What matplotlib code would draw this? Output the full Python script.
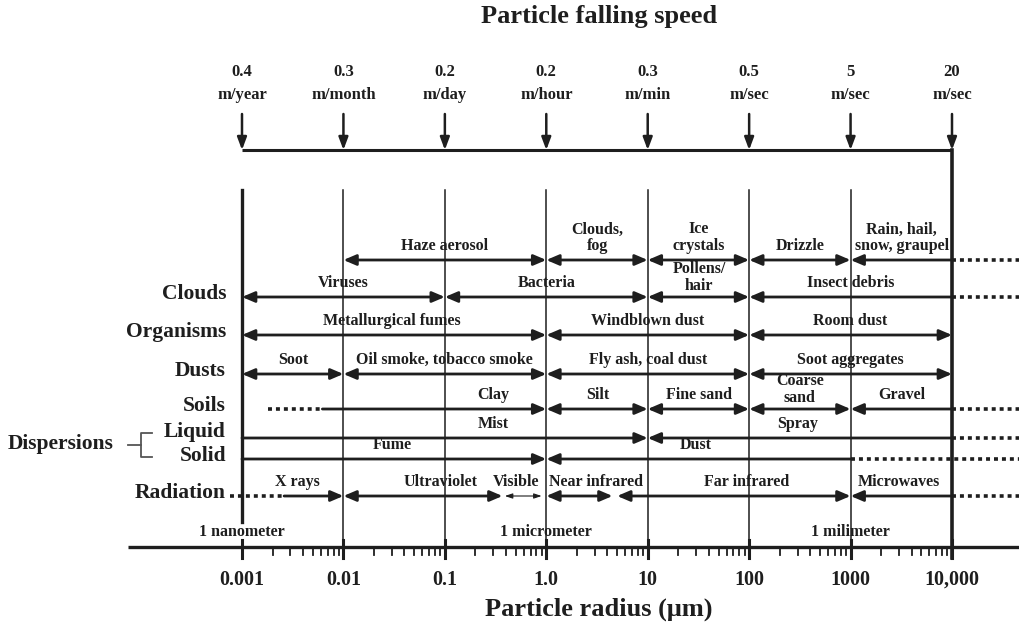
import numpy as np
import matplotlib
matplotlib.use("Agg")
import matplotlib.pyplot as plt

plt.rcParams['font.family'] = ['Liberation Serif', 'DejaVu Serif']
plt.rcParams['font.weight'] = 'bold'

# Data: particle radius in micrometres
decades = [0.001, 0.01, 0.1, 1, 10, 100, 1000, 10000]
tick_labels = ['0.001', '0.01', '0.1', '1.0', '10', '100', '1000', '10,000']
speed_values = ['0.4', '0.3', '0.2', '0.2', '0.3', '0.5', '5', '20']
speed_units = ['m/year', 'm/month', 'm/day', 'm/hour', 'm/min', 'm/sec', 'm/sec', 'm/sec']
scale_names = ['1 nanometer', '1 micrometer', '1 milimeter']
scale_at = [0.001, 1, 1000]

rows = ['', 'Clouds', 'Organisms', 'Dusts', 'Soils', 'Liquid', 'Solid', 'Radiation']

# (label, from, to, label position)
segments = [
    [('Haze aerosol', 0.01, 1, 0.1), ('Clouds,\nfog', 1, 10, 3.2), ('Ice\ncrystals', 10, 100, 32),
     ('Drizzle', 100, 1000, 316), ('Rain, hail,\nsnow, graupel', 1000, 10000, 3200)],
    [('Viruses', 0.001, 0.1, 0.01), ('Bacteria', 0.1, 10, 1), ('Pollens/\nhair', 10, 100, 32),
     ('Insect debris', 100, 10000, 1000)],
    [('Metallurgical fumes', 0.001, 1, 0.03), ('Windblown dust', 1, 100, 10),
     ('Room dust', 100, 10000, 1000)],
    [('Soot', 0.001, 0.01, 0.0032), ('Oil smoke, tobacco smoke', 0.01, 1, 0.1),
     ('Fly ash, coal dust', 1, 100, 10), ('Soot aggregates', 100, 10000, 1000)],
    [('Clay', 0.0062, 1, 0.3), ('Silt', 1, 10, 3.2), ('Fine sand', 10, 100, 32),
     ('Coarse\nsand', 100, 1000, 316), ('Gravel', 1000, 10000, 3200)],
    [('Mist', 0.001, 10, 0.3), ('Spray', 10, 10000, 300)],
    [('Fume', 0.001, 1, 0.03), ('Dust', 1, 1000, 30)],
    [('X rays', 0.0026, 0.01, 0.0035), ('Ultraviolet', 0.01, 0.37, 0.09), ('Visible', 0.39, 0.9, 0.5),
     ('Near infrared', 1, 4.5, 3.1), ('Far infrared', 5, 1000, 95), ('Microwaves', 1000, 10000, 3000)],
]
heads = [
    ['<|-|>', '<|-|>', '<|-|>', '<|-|>', '<|-'],
    ['<|-|>', '<|-|>', '<|-|>', '<|-'],
    ['<|-|>', '<|-|>', '<|-|>'],
    ['<|-|>', '<|-|>', '<|-|>', '<|-|>'],
    ['-|>', '<|-|>', '<|-|>', '<|-|>', '<|-'],
    ['-|>', '<|-'],
    ['-|>', '<|-'],
    ['-|>', '<|-|>', 'thin', '<|-|>', '<|-|>', '<|-'],
]
# dotted (open-ended) pieces: (row, from, to); None = runs off the right edge
dotted = [(0, 10000, None), (1, 10000, None), (4, 0.0018, 0.0062), (4, 10000, None),
          (5, 10000, None), (6, 1000, None), (7, 0.00076, 0.0026), (7, 10000, None)]

# ---- layout (pixels on a 1019x629 canvas) ----
W, H = 1019, 629
X0, PPD = 242, (952 - 242) / 7.0
row_y = [260, 297, 335, 374, 409, 438, 459, 496]
ink = '#1e1e1e'


def px(x):
    return 10 ** (-3 + (x - X0) / PPD)


fig = plt.figure(figsize=(W / 100, H / 100), dpi=100)
ax = fig.add_axes([0, 0, 1, 1])
ax.set_xscale('log')
ax.set_xlim(px(0), px(W))
ax.set_ylim(H, 0)
ax.axis('off')
XMAX = px(W)

# title and speeds
ax.text(px(599), 16, 'Particle falling speed', ha='center', va='center', fontsize=19, color=ink)
for d, v, u in zip(decades, speed_values, speed_units):
    ax.text(d, 72, v, ha='center', va='center', fontsize=12, color=ink)
    ax.text(d, 95, u, ha='center', va='center', fontsize=12, color=ink)
    ax.annotate('', xy=(d, 150), xytext=(d, 114),
                arrowprops=dict(arrowstyle='-|>,head_length=0.75,head_width=0.28', lw=1.8,
                                color=ink, shrinkA=0, shrinkB=0))
ax.plot([decades[0], decades[-1]], [150, 150], color=ink, lw=2.2, solid_capstyle='butt')

# vertical guide lines
ax.plot([decades[0]] * 2, [190, 522], color=ink, lw=2.4)
ax.plot([decades[-1]] * 2, [150, 558], color=ink, lw=2.6)
for d in decades[1:-1]:
    ax.plot([d, d], [190, 557], color=ink, lw=1.1)

# bottom axis
ax.plot([px(128), XMAX], [547, 547], color=ink, lw=2.4, solid_capstyle='butt')
for d in decades:
    ax.plot([d, d], [540, 558], color=ink, lw=2.2)
for d in decades[:-1]:
    for m in range(2, 10):
        ax.plot([d * m, d * m], [547, 555], color=ink, lw=1.3)
for d, t in zip(decades, tick_labels):
    ax.text(d, 580, t, ha='center', va='center', fontsize=14.5, color=ink)
for d, t in zip(scale_at, scale_names):
    ax.text(d, 532, t, ha='center', va='center', fontsize=11.5, color=ink)
ax.text(px(599), 609, 'Particle radius (\u03bcm)', ha='center', va='center', fontsize=19, color=ink)

# row labels
for name, y in zip(rows, row_y):
    if name in ('Liquid', 'Solid'):
        y = y - 3 if name == 'Liquid' else y
    ax.text(px(226), y - 3, name, ha='right', va='center', fontsize=15.5, color=ink)
ax.text(px(8), 444, 'Dispersions', ha='left', va='center', fontsize=15.5, color=ink)
ax.plot([px(128), px(141)], [445, 445], color='#555555', lw=1.3)
ax.plot([px(152), px(141), px(141), px(152)], [433, 433, 457, 457], color='#555555', lw=1.3)

# range arrows
for i, y in enumerate(row_y):
    for (label, lo, hi, lx), hd in zip(segments[i], heads[i]):
        if hd == 'thin':
            props = dict(arrowstyle='<|-|>,head_length=0.45,head_width=0.15', lw=0.8)
        else:
            props = dict(arrowstyle=hd + ',head_length=0.75,head_width=0.32', lw=2.0)
        ax.annotate('', xy=(hi, y), xytext=(lo, y),
                    arrowprops=dict(color=ink, shrinkA=0, shrinkB=0, **props))
        gap = 3 if label in ('Pollens/\nhair', 'Coarse\nsand') else 6
        ax.text(lx, y - gap, label, ha='center', va='bottom', fontsize=11.5,
                color=ink, linespacing=1.05)

for i, lo, hi in dotted:
    ax.plot([lo, XMAX if hi is None else hi], [row_y[i]] * 2, color=ink, lw=2.6,
            linestyle=(0, (1.1, 1.1)), solid_capstyle='butt', dash_capstyle='butt')

fig.savefig('out.png', dpi=100)
